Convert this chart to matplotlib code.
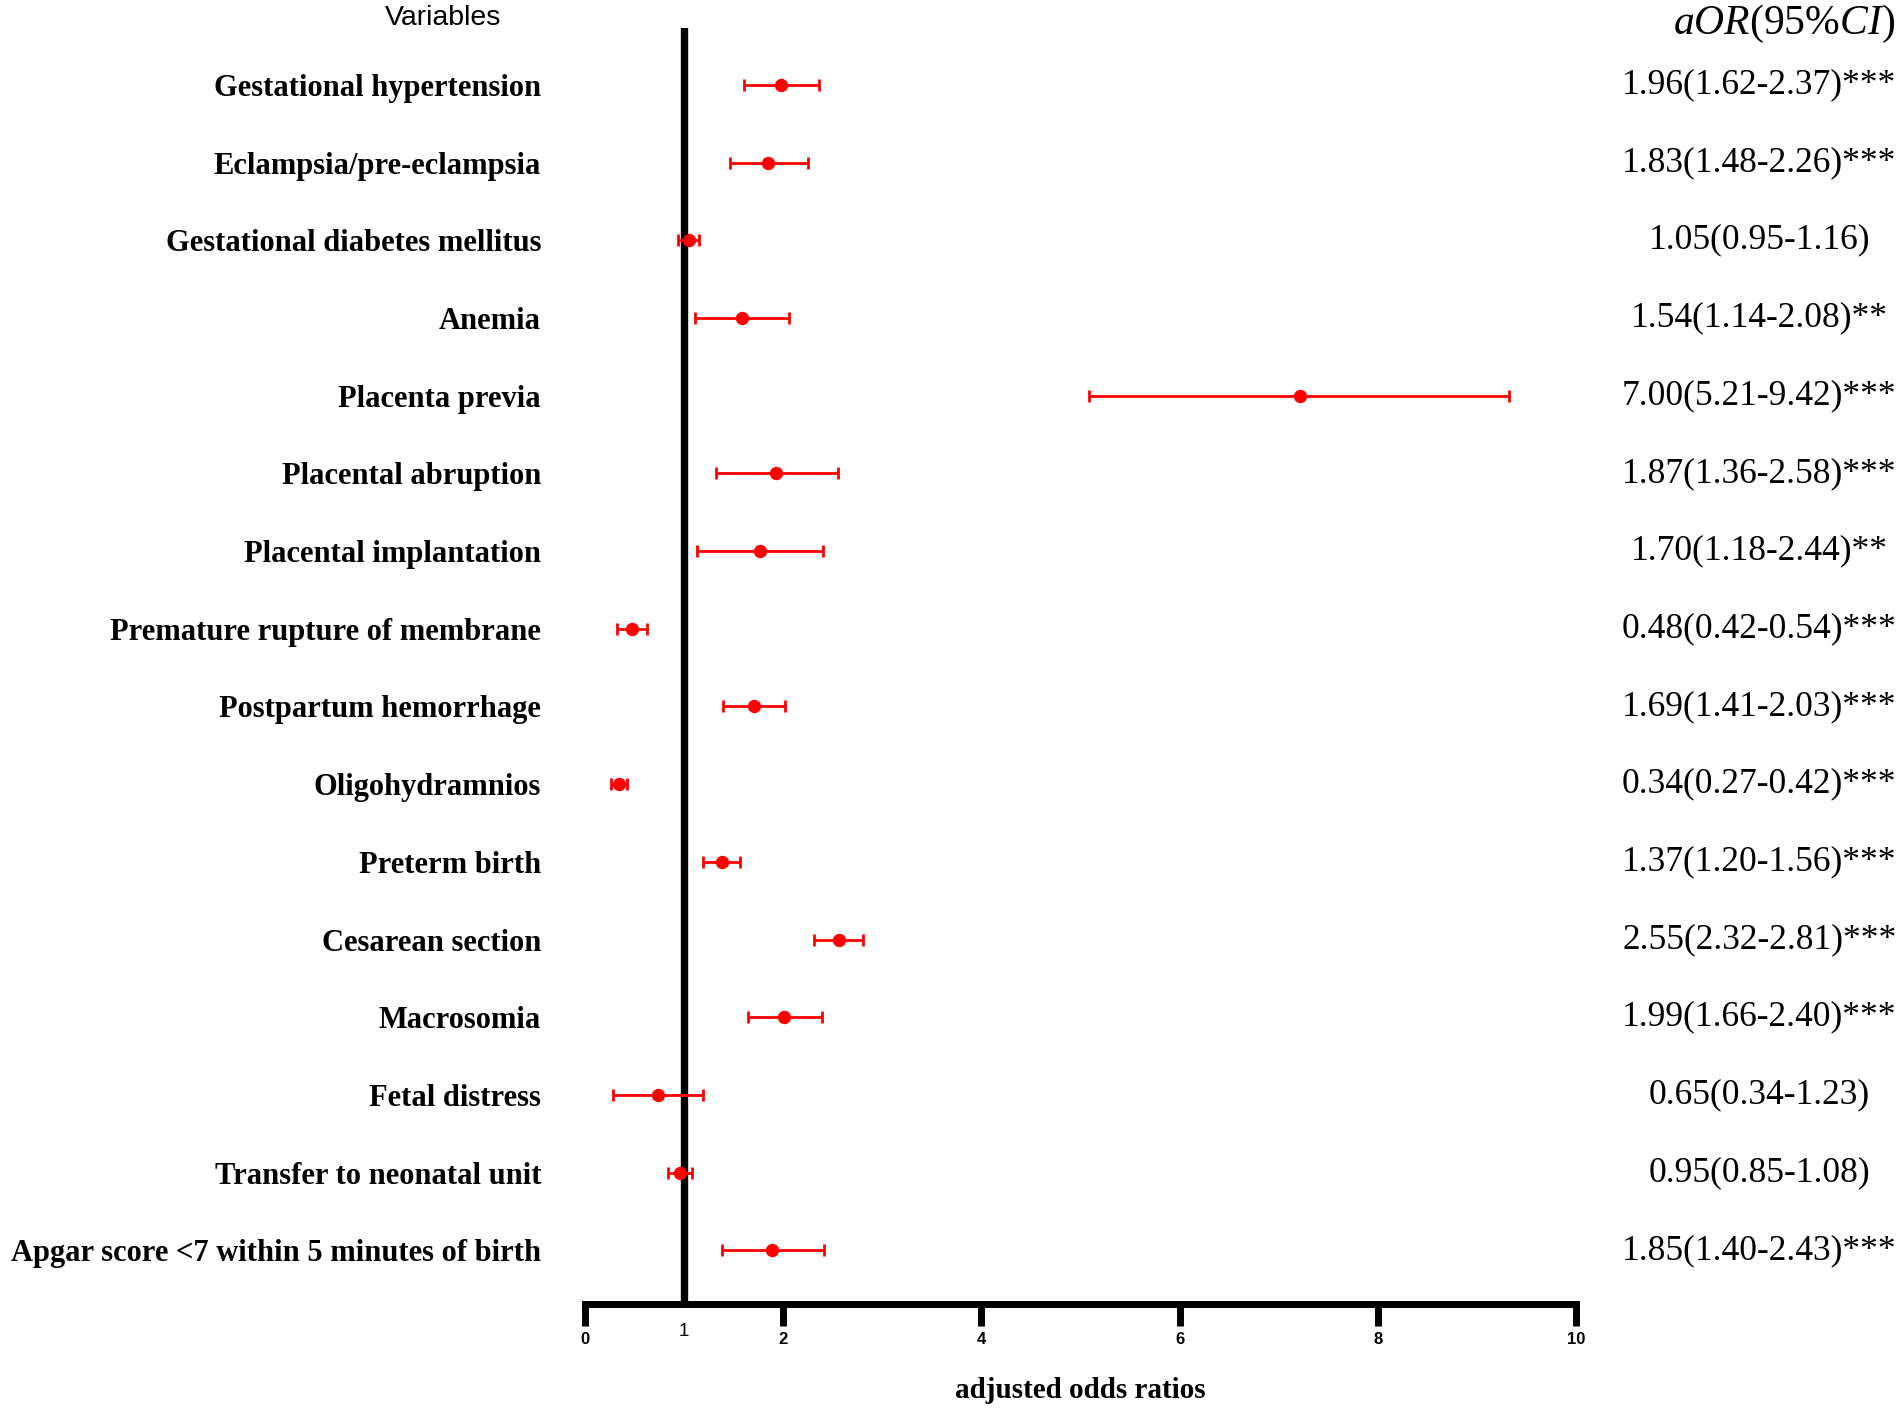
import numpy as np
import matplotlib.pyplot as plt
from matplotlib.transforms import blended_transform_factory


# -----------------------------
# DADOS
# -----------------------------

variaveis = [
    "Gestational hypertension",
    "Eclampsia/pre-eclampsia",
    "Gestational diabetes mellitus",
    "Anemia",
    "Placenta previa",
    "Placental abruption",
    "Placental implantation",
    "Premature rupture of membrane",
    "Postpartum hemorrhage",
    "Oligohydramnios",
    "Preterm birth",
    "Cesarean section",
    "Macrosomia",
    "Fetal distress",
    "Transfer to neonatal unit",
    "Apgar score <7 within 5 minutes of birth",
]

# pontos e IC como aparecem desenhados no grafico
aor = [1.98, 1.85, 1.05, 1.58, 7.21, 1.93, 1.77, 0.47,
       1.70, 0.34, 1.38, 2.56, 2.01, 0.74, 0.96, 1.89]
ic_inf = [1.60, 1.46, 0.94, 1.11, 5.09, 1.32, 1.13, 0.32,
          1.39, 0.26, 1.19, 2.31, 1.64, 0.28, 0.84, 1.38]
ic_sup = [2.36, 2.25, 1.15, 2.06, 9.32, 2.55, 2.40, 0.63,
          2.02, 0.42, 1.56, 2.80, 2.39, 1.19, 1.08, 2.41]

rotulos_aor = [
    "1.96(1.62-2.37)***",
    "1.83(1.48-2.26)***",
    "1.05(0.95-1.16)",
    "1.54(1.14-2.08)**",
    "7.00(5.21-9.42)***",
    "1.87(1.36-2.58)***",
    "1.70(1.18-2.44)**",
    "0.48(0.42-0.54)***",
    "1.69(1.41-2.03)***",
    "0.34(0.27-0.42)***",
    "1.37(1.20-1.56)***",
    "2.55(2.32-2.81)***",
    "1.99(1.66-2.40)***",
    "0.65(0.34-1.23)",
    "0.95(0.85-1.08)",
    "1.85(1.40-2.43)***",
]

xticks = [0, 2, 4, 6, 8, 10]


# -----------------------------
# GRAFICO
# -----------------------------

plt.rcParams["mathtext.fontset"] = "custom"
plt.rcParams["mathtext.rm"] = "Liberation Serif"
plt.rcParams["mathtext.it"] = "Liberation Serif:italic"

fig = plt.figure(figsize=(19.02, 14.11), dpi=100, facecolor="white")
ax = fig.add_axes([0.3076, 0.0758, 0.5210, 0.9043])

y = np.arange(len(variaveis))
aor = np.array(aor)
erro = [aor - np.array(ic_inf), np.array(ic_sup) - aor]

ax.axvline(1, color="black", linewidth=5.3, zorder=1)

ax.errorbar(
    aor, y, xerr=erro,
    fmt="o", color="#ff0000", ecolor="#ff0000",
    markersize=8.6, elinewidth=2, capsize=4.2, capthick=2,
    zorder=3
)

ax.set_xlim(0, 10)
ax.set_ylim(15.69, -0.73)

for lado in ["left", "top", "right"]:
    ax.spines[lado].set_visible(False)
ax.spines["bottom"].set_linewidth(5)

ax.set_xticks(xticks)
ax.set_xticklabels([str(t) for t in xticks], fontfamily="Liberation Sans",
                   fontweight="bold", fontsize=12)
ax.tick_params(axis="x", length=16, width=5, pad=4)

ax.set_yticks(y)
ax.set_yticklabels(variaveis, fontfamily="Liberation Serif",
                   fontweight="bold", fontsize=22)
ax.tick_params(axis="y", length=0, pad=31.7)

# o "1" da linha de referencia
trans = blended_transform_factory(ax.transData, ax.transAxes)
ax.text(1, -0.0215, "1", transform=trans, ha="center", va="center",
        fontfamily="Liberation Sans", fontsize=13.5)

ax.set_xlabel("adjusted odds ratios", fontfamily="Liberation Serif",
              fontweight="bold", fontsize=21, labelpad=22)

# coluna de aOR a direita
trans_dir = blended_transform_factory(ax.transAxes, ax.transData)
for yi, txt in zip(y, rotulos_aor):
    ax.text(1.185, yi, txt, transform=trans_dir, ha="center", va="center",
            fontfamily="Liberation Serif", fontsize=25.5, clip_on=False)

fig.text(0.233, 0.987, "Variables", ha="center", va="center",
         fontfamily="Liberation Sans", fontsize=20.5)

fig.text(0.938, 0.983, r"$\mathit{aOR}$(95%$\mathit{CI}$)", ha="center",
         va="center", fontfamily="Liberation Serif", fontsize=30)

plt.savefig("out.png", dpi=100, facecolor="white")
